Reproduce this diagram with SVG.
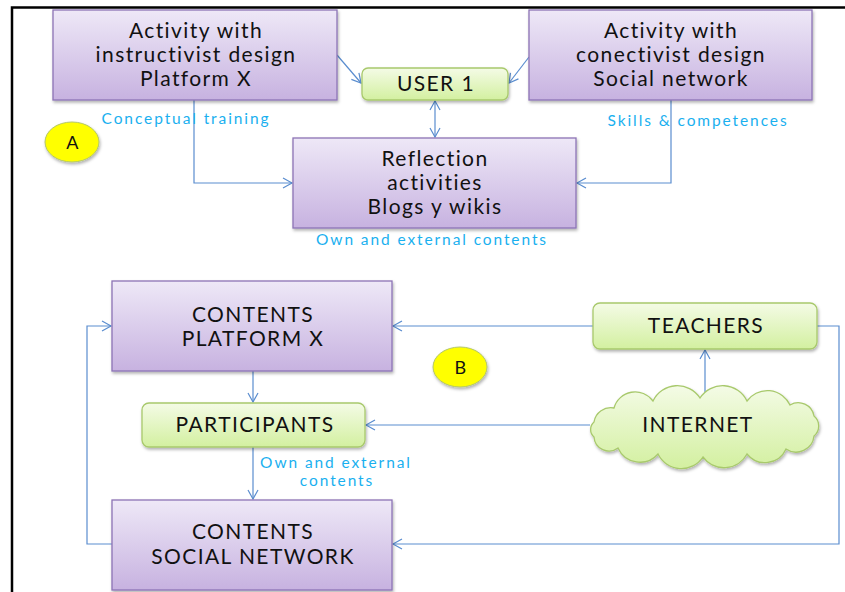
<svg xmlns="http://www.w3.org/2000/svg" width="845" height="592" viewBox="0 0 845 592">
<defs>
<linearGradient id="gp" x1="0" y1="0" x2="0" y2="1"><stop offset="0" stop-color="#eee8f7"/><stop offset="1" stop-color="#c7b2e0"/></linearGradient>
<linearGradient id="gg" x1="0" y1="0" x2="0" y2="1"><stop offset="0" stop-color="#f4fbe6"/><stop offset="1" stop-color="#d3f0a0"/></linearGradient>
<filter id="sh" x="-10%" y="-10%" width="120%" height="130%"><feDropShadow dx="1" dy="2" stdDeviation="1.5" flood-color="#000" flood-opacity="0.3"/></filter>
<marker id="ar" markerWidth="12" markerHeight="12" refX="10" refY="6" orient="auto" markerUnits="userSpaceOnUse"><path d="M1,1 L10,6 L1,11" fill="none" stroke="#5a8dcf" stroke-width="1.2"/></marker>
<marker id="as" markerWidth="12" markerHeight="12" refX="2" refY="6" orient="auto" markerUnits="userSpaceOnUse"><path d="M11,1 L2,6 L11,11" fill="none" stroke="#5a8dcf" stroke-width="1.2"/></marker>
</defs>
<style>
.p{fill:url(#gp);stroke:#8d73b5;stroke-width:1.3;filter:url(#sh)}
.g{fill:url(#gg);stroke:#a8c96c;stroke-width:1.3;filter:url(#sh)}
.t{font-family:Lato,"Open Sans",sans-serif;font-size:21px;letter-spacing:1.4px;fill:#111;text-anchor:middle}
.l{font-family:Lato,"Open Sans",sans-serif;font-size:15.5px;letter-spacing:1.9px;fill:#1ab0ef;text-anchor:middle}
.c{fill:none;stroke:#5a8dcf;stroke-width:1.2}
.y{fill:#ffff00;stroke:#b3c66a;stroke-width:1;filter:url(#sh)}
</style>
<rect width="845" height="592" fill="#fff"/>
<path d="M12,592 V7.5 H845" fill="none" stroke="#000" stroke-width="2.5"/>

<g id="connectors">
<path class="c" d="M337,55 L361,83" marker-end="url(#ar)"/>
<path class="c" d="M529,57 L509,83" marker-end="url(#ar)"/>
<path class="c" d="M435,101 V137" marker-start="url(#as)" marker-end="url(#ar)"/>
<path class="c" d="M194,100 V183 H292" marker-end="url(#ar)"/>
<path class="c" d="M671,100 V183 H577" marker-end="url(#ar)"/>
<path class="c" d="M253,371 V402" marker-end="url(#ar)"/>
<path class="c" d="M253,447 V499" marker-end="url(#ar)"/>
<path class="c" d="M593,326 H393" marker-end="url(#ar)"/>
<path class="c" d="M112,544 H87 V326 H111" marker-end="url(#ar)"/>
<path class="c" d="M817,326 H839 V544 H393" marker-end="url(#ar)"/>
<path class="c" d="M590,425 H366" marker-end="url(#ar)"/>
<path class="c" d="M705,396 V350" marker-end="url(#ar)"/>
</g>

<g id="instructivist">
<rect class="p" x="53" y="10" width="284" height="90"/>
<text class="t" x="196" y="38">Activity with</text>
<text class="t" x="196" y="62">instructivist design</text>
<text class="t" x="196" y="86">Platform X</text>
</g>
<g id="conectivist">
<rect class="p" x="529" y="10" width="283" height="90"/>
<text class="t" x="671" y="38">Activity with</text>
<text class="t" x="671" y="62">conectivist design</text>
<text class="t" x="671" y="86">Social network</text>
</g>
<g id="user1">
<rect class="g" x="362" y="68" width="146" height="32" rx="6"/>
<text class="t" x="436" y="91">USER 1</text>
</g>
<g id="reflection">
<rect class="p" x="293" y="138" width="283" height="90"/>
<text class="t" x="435" y="166">Reflection</text>
<text class="t" x="435" y="190">activities</text>
<text class="t" x="435" y="214">Blogs y wikis</text>
</g>
<g id="labelsA">
<text class="l" x="186" y="124">Conceptual training</text>
<text class="l" x="698" y="126">Skills &amp; competences</text>
<text class="l" x="432" y="245">Own and external contents</text>
</g>
<g id="circleA">
<ellipse class="y" cx="72" cy="142" rx="27" ry="20"/>
<text class="t" x="73" y="149" style="font-size:18px">A</text>
</g>

<g id="contentsPlatform">
<rect class="p" x="112" y="281" width="280" height="90"/>
<text class="t" x="253" y="322">CONTENTS</text>
<text class="t" x="253" y="346">PLATFORM X</text>
</g>
<g id="participants">
<rect class="g" x="142" y="403" width="223" height="44" rx="7"/>
<text class="t" x="255" y="432">PARTICIPANTS</text>
</g>
<g id="teachers">
<rect class="g" x="593" y="303" width="224" height="46" rx="7"/>
<text class="t" x="706" y="333">TEACHERS</text>
</g>
<g id="internet">
<path class="g" d="M594,422 A17,17 0 0 1 614,408 A22,22 0 0 1 653,401 A27,27 0 0 1 700,398 A27,27 0 0 1 747,401 A25,25 0 0 1 790,405 A16,16 0 0 1 814,416 A13,13 0 0 1 814,436 A18,18 0 0 1 786,449 A23,23 0 0 1 747,454 A26,26 0 0 1 703,457 A26,26 0 0 1 658,454 A24,24 0 0 1 618,448 A15,15 0 0 1 594,437 A10,10 0 0 1 594,422 Z"/>
<text class="t" x="698" y="432">INTERNET</text>
</g>
<g id="contentsSocial">
<rect class="p" x="112" y="500" width="280" height="90"/>
<text class="t" x="253" y="539">CONTENTS</text>
<text class="t" x="253" y="564">SOCIAL NETWORK</text>
</g>
<g id="labelsB">
<text class="l" x="336" y="468">Own and external</text>
<text class="l" x="337" y="486">contents</text>
</g>
<g id="circleB">
<ellipse class="y" cx="460" cy="367" rx="27" ry="20"/>
<text class="t" x="461" y="374" style="font-size:18px">B</text>
</g>
</svg>
